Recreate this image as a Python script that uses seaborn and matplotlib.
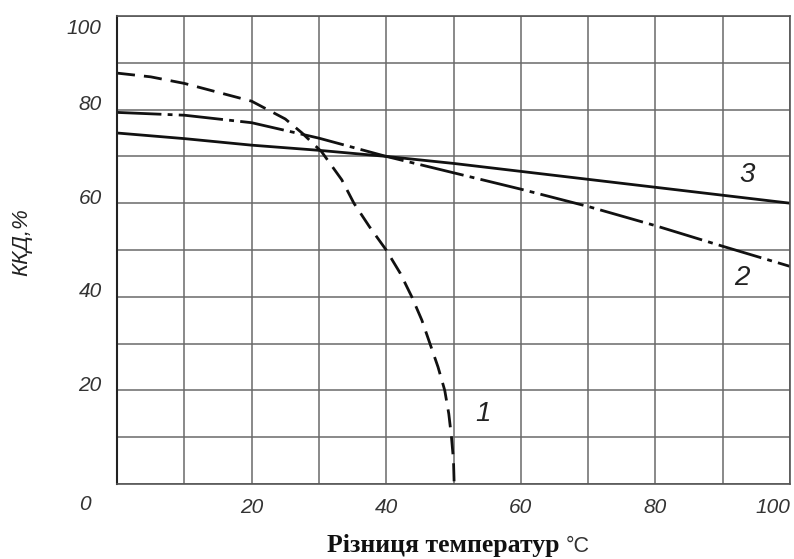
import matplotlib
matplotlib.use("Agg")
import matplotlib.pyplot as plt
import matplotlib.transforms as mtransforms
import seaborn as sns
import pandas as pd

# ---- data ----
x1 = [0, 5, 10, 15, 20, 25, 27.5, 30.4, 33.4, 35.2, 37.5, 40, 42.1, 43.8,
      45.3, 46.5, 47.7, 48.7, 49.3, 49.7, 50.0, 50.1]
y1 = [87.8, 87.0, 85.6, 83.7, 81.8, 78.0, 75.0, 71.0, 65.0, 60.0, 55.0, 50.0,
      45.0, 40.0, 35.0, 30.0, 25.0, 20.0, 15.0, 10.0, 5.0, 0.0]

x2 = [0, 10, 20, 30, 40, 50, 60, 70, 80, 90, 100]
y2 = [79.4, 78.8, 77.2, 73.9, 70.0, 66.5, 63.0, 59.3, 55.2, 50.8, 46.5]

x3 = [0, 10, 20, 30, 40, 50, 60, 70, 80, 90, 100]
y3 = [75.0, 73.8, 72.4, 71.3, 70.0, 68.5, 66.8, 65.1, 63.4, 61.7, 60.0]

curve_labels = ["1", "2", "3"]
label_pos = [(54.4, 15.0), (92.9, 44.0), (93.6, 66.0)]

xlabel_main = "Різниця температур"
xlabel_unit = "°C"
ylabel = "ККД,%"

sns.set_style("white")
plt.rcParams["lines.scale_dashes"] = False
plt.rcParams["font.family"] = ["Liberation Sans", "DejaVu Sans"]

fig = plt.figure(figsize=(7.94, 5.59), dpi=100)
ax = fig.add_axes([117 / 794, 1 - 484 / 559, 673 / 794, 468 / 559])

df1 = pd.DataFrame({"x": x1, "y": y1})
df2 = pd.DataFrame({"x": x2, "y": y2})
df3 = pd.DataFrame({"x": x3, "y": y3})

lw = 2.0
sns.lineplot(data=df1, x="x", y="y", ax=ax, color="#111111", lw=lw,
             sort=False, estimator=None, linestyle=(0, (13, 6.5)))
sns.lineplot(data=df2, x="x", y="y", ax=ax, color="#111111", lw=lw,
             sort=False, estimator=None, linestyle=(0, (32, 4.5, 3.5, 4.5)))
sns.lineplot(data=df3, x="x", y="y", ax=ax, color="#111111", lw=lw,
             sort=False, estimator=None)

ax.set_xlim(0, 100)
ax.set_ylim(0, 100)

ticks = list(range(0, 101, 10))
ax.set_xticks(ticks)
ax.set_yticks(ticks)
ax.set_xticklabels(["" if (v % 20 or v == 0) else str(v) for v in ticks])
ax.set_yticklabels(["" if (v % 20 or v == 0) else str(v) for v in ticks])
ax.tick_params(axis="both", length=0, labelsize=15, labelcolor="#333333")
ax.tick_params(axis="x", pad=10)
ax.tick_params(axis="y", pad=11)
for t in ax.get_xticklabels() + ax.get_yticklabels():
    t.set_fontstyle("italic")
xtl = ax.get_xticklabels()
xtl[-1].set_horizontalalignment("right")
for t, v in zip(ax.get_yticklabels(), ticks):
    dy = -11 if v == 100 else 7
    t.set_transform(t.get_transform() +
                    mtransforms.ScaledTranslation(0, dy / 100, fig.dpi_scale_trans))

ax.grid(True, color="#6a6a6a", lw=1.1)
ax.set_axisbelow(True)
for s in ax.spines.values():
    s.set_visible(True)
    s.set_color("#555555")
    s.set_linewidth(1.2)
ax.spines["left"].set_color("#222222")
ax.spines["left"].set_linewidth(1.5)

ax.set_xlabel("")
ax.set_ylabel("")

fig.text(85 / 794, 1 - 505 / 559, "0", fontsize=15, fontstyle="italic",
         color="#333333", ha="center", va="center")

for lab, (px, py) in zip(curve_labels, label_pos):
    ax.text(px, py, lab, fontsize=20, fontstyle="italic", color="#222222",
            ha="center", va="center")

fig.text(22 / 794, 1 - 242 / 559, ylabel, rotation=90, fontsize=16,
         fontstyle="italic", color="#222222", ha="center", va="center")

t_main = fig.text(327 / 794, 7 / 559, xlabel_main, fontsize=18.5,
                  family=["Liberation Serif", "DejaVu Serif"], fontweight="bold",
                  color="#111111", ha="left", va="baseline")
fig.canvas.draw()
bb = t_main.get_window_extent(renderer=fig.canvas.get_renderer())
fig.text((bb.x1 + 6) / 794, 7 / 559, xlabel_unit, fontsize=15.5,
         color="#333333", ha="left", va="baseline")

fig.savefig("out.png", dpi=100)
